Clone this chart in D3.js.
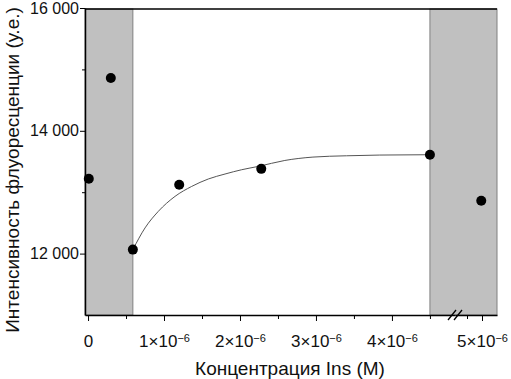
<!DOCTYPE html>
<html>
<head>
<meta charset="utf-8">
<script src="https://cdn.jsdelivr.net/npm/d3@7"></script>
<style>
  body { margin: 0; background: #fff; }
  text { font-family: "Liberation Sans", Arial, sans-serif; fill: #111; }
</style>
</head>
<body>
<div id="chart"></div>
<script>
// measured points (concentration M, fluorescence a.u.)
const pointX = [0.01e-6, 0.3e-6, 0.59e-6, 1.2e-6, 2.28e-6, 4.5e-6, 4.99e-6];
const pointY = [13220, 14860, 12065, 13120, 13380, 13610, 12860];

// fitted curve
const curveX = [0.59e-6, 0.75e-6, 0.925e-6, 1.145e-6, 1.364e-6, 1.583e-6, 1.803e-6, 2.022e-6, 2.241e-6, 2.59e-6, 2.96e-6, 3.4e-6, 3.84e-6, 4.46e-6];
const curveY = [12065, 12418, 12688, 12932, 13094, 13215, 13296, 13366, 13420, 13517, 13572, 13593, 13605, 13610];

// shaded regions
const shadeStart = [-0.04e-6, 4.5e-6];
const shadeEnd = [0.59e-6, 5.2e-6];

const yMajor = [12000, 14000, 16000];
const yMinor = [13000, 15000];
const xMajor1 = [0, 1e-6, 2e-6, 3e-6, 4e-6];
const xMinor1 = [0.5e-6, 1.5e-6, 2.5e-6, 3.5e-6, 4.5e-6];
const xMajor2 = [5e-6];
const xMinor2 = [4.8e-6];

const width = 511, height = 379;
const mLeft = 85, mRight = 497, mTop = 8, mBottom = 315, breakPx = 455;
const breakVal = 4.75e-6;

const svg = d3.select('#chart').append('svg')
  .attr('width', width).attr('height', height);

const x1 = d3.scaleLinear().domain([-0.04e-6, 4.83e-6]).range([mLeft, breakPx]);
const x2 = d3.scaleLinear().domain([4.64e-6, 5.2e-6]).range([breakPx, mRight]);
const x = (v) => (v < breakVal ? x1(v) : x2(v));
const y = d3.scaleLinear().domain([11000, 16000]).range([mBottom, mTop]);

// grey bands
svg.append('g').selectAll('rect').data(shadeStart.map((s, i) => [s, shadeEnd[i]])).join('rect')
  .attr('x', (d) => x(d[0])).attr('y', mTop + 1)
  .attr('width', (d) => x(d[1]) - x(d[0])).attr('height', mBottom - mTop - 1)
  .attr('fill', '#c0c0c0').attr('stroke', '#808080').attr('stroke-width', 1);

// top border
svg.append('line').attr('x1', mLeft).attr('x2', mRight).attr('y1', mTop + 1).attr('y2', mTop + 1)
  .attr('stroke', '#000').attr('stroke-width', 1.5);

// curve
const curve = curveX.map((v, i) => [v, curveY[i]]);
svg.append('path').datum(curve)
  .attr('d', d3.line().x((d) => x(d[0])).y((d) => y(d[1])).curve(d3.curveMonotoneX))
  .attr('fill', 'none').attr('stroke', '#555').attr('stroke-width', 1);

// points
svg.append('g').selectAll('circle').data(pointX.map((v, i) => [v, pointY[i]])).join('circle')
  .attr('cx', (d) => x(d[0])).attr('cy', (d) => y(d[1])).attr('r', 5).attr('fill', '#000');

// y axis
const yAxis = svg.append('g').attr('transform', `translate(${mLeft},0)`)
  .call(d3.axisLeft(y).tickValues(yMajor).tickSize(5).tickSizeOuter(0).tickFormat((d) => d3.format(',')(d).replace(',', ' ')));
yAxis.selectAll('text').attr('font-size', 16).attr('x', -6);
svg.append('g').attr('transform', `translate(${mLeft},0)`)
  .call(d3.axisLeft(y).tickValues(yMinor).tickSize(3).tickFormat(''))
  .select('.domain').remove();

// x axis (two segments)
const xLabel = (sel) => {
  sel.each(function (d) {
    const t = d3.select(this).text('');
    if (d === 0) { t.text('0'); return; }
    t.append('tspan').text(`${Math.round(d * 1e6)}×10`);
    t.append('tspan').attr('dy', '-0.5em').attr('font-size', 11).text('−6');
  });
};
[[x1, xMajor1, xMinor1], [x2, xMajor2, xMinor2]].forEach(([sc, major, minor]) => {
  const g = svg.append('g').attr('transform', `translate(0,${mBottom})`)
    .call(d3.axisBottom(sc).tickValues(major).tickSize(6).tickSizeOuter(0));
  g.selectAll('text').attr('font-size', 17).attr('y', 20).call(xLabel);
  svg.append('g').attr('transform', `translate(0,${mBottom})`)
    .call(d3.axisBottom(sc).tickValues(minor).tickSize(4).tickFormat(''))
    .select('.domain').remove();
});
svg.selectAll('.domain').attr('stroke-width', 1.5);

// axis break marks
[-3, 3].forEach((dx) => {
  svg.append('line')
    .attr('x1', breakPx + dx - 4).attr('y1', mBottom + 5)
    .attr('x2', breakPx + dx + 4).attr('y2', mBottom - 5)
    .attr('stroke', '#000').attr('stroke-width', 1.3);
});

// titles
svg.append('text').attr('x', 290).attr('y', 375).attr('text-anchor', 'middle')
  .attr('font-size', 19).text('Концентрация Ins (M)');
svg.append('text').attr('transform', 'translate(19,170) rotate(-90)').attr('text-anchor', 'middle')
  .attr('font-size', 19).text('Интенсивность флуоресценции (у.е.)');
</script>
</body>
</html>
